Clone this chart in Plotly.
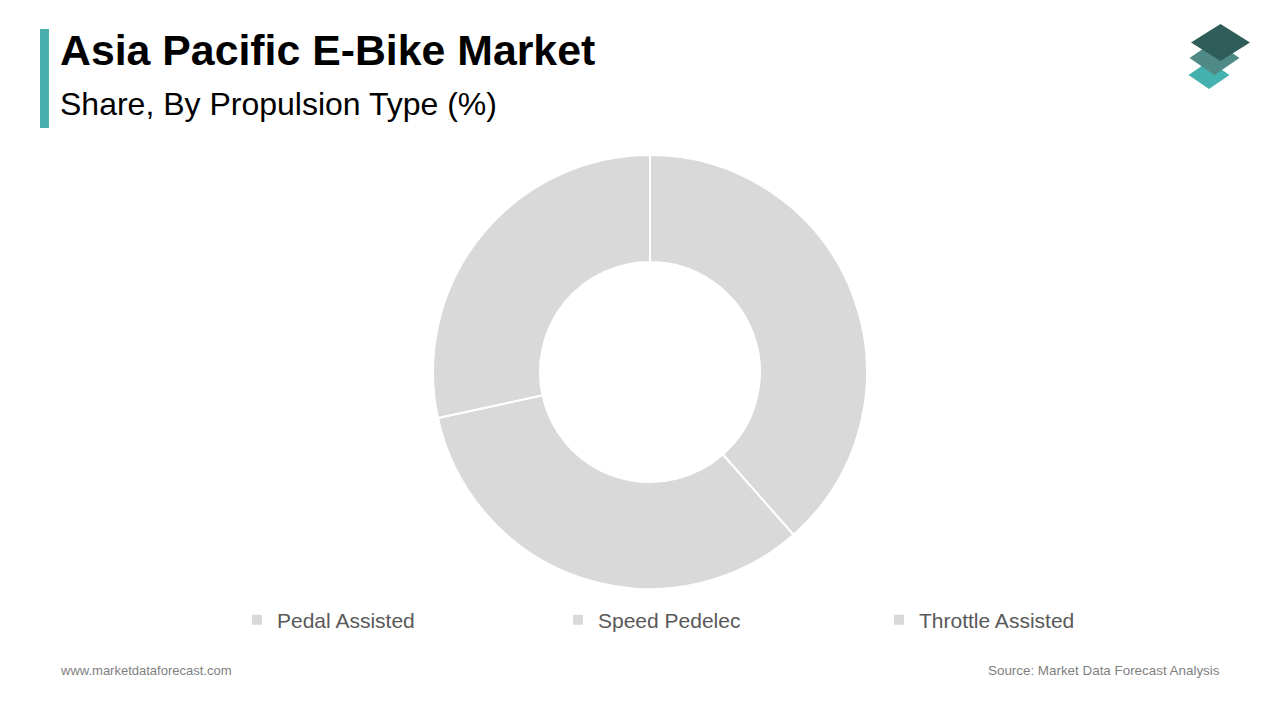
import plotly.graph_objects as go

W, H = 1280, 720

categories = ["Pedal Assisted", "Speed Pedelec", "Throttle Assisted"]
shares = [38.5, 33.1, 28.4]
slice_colors = ["#d9d9d9", "#d9d9d9", "#d9d9d9"]

title_text = "Asia Pacific E-Bike Market"
subtitle_text = "Share, By Propulsion Type (%)"
footer_left = "www.marketdataforecast.com"
footer_right = "Source: Market Data Forecast Analysis"


def px(x):
    return x / W


def py(y):
    return 1 - y / H


def diamond(cx, cy, hw, hh):
    pts = [(cx - hw, cy), (cx, cy - hh), (cx + hw, cy), (cx, cy + hh)]
    return "M " + " L ".join(f"{px(a):.5f},{py(b):.5f}" for a, b in pts) + " Z"


fig = go.Figure()
fig.add_trace(go.Pie(
    labels=categories,
    values=shares,
    sort=False,
    direction="clockwise",
    rotation=0,
    hole=0.507,
    textinfo="none",
    marker=dict(colors=slice_colors, line=dict(color="white", width=2)),
    domain=dict(x=[px(433), px(867)], y=[py(589), py(155)]),
))

shapes = [
    dict(type="rect", xref="paper", yref="paper", x0=px(40), x1=px(49), y0=py(128), y1=py(29),
         fillcolor="#4aafac", line=dict(width=0)),
    dict(type="path", xref="paper", yref="paper", path=diamond(1209, 75, 20.5, 14),
         fillcolor="#45b1ae", line=dict(width=0)),
    dict(type="path", xref="paper", yref="paper", path=diamond(1214.5, 58, 25, 17),
         fillcolor="#4f8a86", line=dict(width=0)),
    dict(type="path", xref="paper", yref="paper", path=diamond(1220.5, 42.5, 29.5, 18.5),
         fillcolor="#2f5e5a", line=dict(width=0)),
]

annotations = [
    dict(text=f"<b>{title_text}</b>", x=px(58), y=py(50), xref="paper", yref="paper",
         xanchor="left", yanchor="middle", showarrow=False,
         font=dict(family="Liberation Sans, Arial", size=42.8, color="#000000")),
    dict(text=subtitle_text, x=px(58), y=py(104), xref="paper", yref="paper",
         xanchor="left", yanchor="middle", showarrow=False,
         font=dict(family="Liberation Sans, Arial", size=32, color="#000000")),
    dict(text=footer_left, x=px(58), y=py(670), xref="paper", yref="paper",
         xanchor="left", yanchor="middle", showarrow=False,
         font=dict(family="Liberation Sans, Arial", size=13, color="#7f7f7f")),
    dict(text=footer_right, x=px(1222), y=py(670), xref="paper", yref="paper",
         xanchor="right", yanchor="middle", showarrow=False,
         font=dict(family="Liberation Sans, Arial", size=13.4, color="#7f7f7f")),
]

fig.update_layout(
    width=W, height=H,
    margin=dict(l=0, r=0, t=0, b=0),
    paper_bgcolor="white", plot_bgcolor="white",
    shapes=shapes,
    annotations=annotations,
    showlegend=True,
    legend=dict(
        orientation="h", x=px(237), y=py(620), xanchor="left", yanchor="middle",
        entrywidth=276, entrywidthmode="pixels",
        font=dict(family="Liberation Sans, Arial", size=21, color="#595959"),
        itemsizing="constant",
    ),
)

fig.write_html(
    "out.html",
    config={"displayModeBar": False},
    post_script="document.body.style.margin='0';document.body.style.overflow='hidden';",
)
